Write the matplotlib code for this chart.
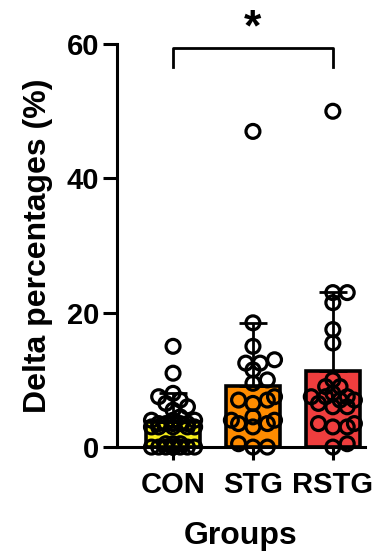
import numpy as np
import matplotlib
matplotlib.use("Agg")
import matplotlib.pyplot as plt

plt.rcParams['font.family'] = ['Liberation Sans', 'DejaVu Sans']
plt.rcParams['font.weight'] = 'bold'

groups = ["CON", "STG", "RSTG"]
bar_colors = ["#f7ee1a", "#ff8c00", "#ef3e3e"]
means = [3.7, 9.1, 11.4]
sds = [4.3, 9.4, 11.7]

con_vals = [15, 11, 8, 7.5, 7, 6.5, 6, 5.5, 4.5, 4, 4, 4, 3.5, 3.5, 3.5, 3.5,
            3.5, 3, 3, 3, 3, 3, 0.5, 0.5, 0.5, 0, 0, 0, 0, 0, 0, 0, 0, 0]
stg_vals = [47, 18.5, 15, 12.5, 12.5, 13, 11.5, 10, 9.5, 7.5, 7, 7, 6.5,
            4, 4, 4.5, 3.5, 3.5, 3, 0.5, 0, 0]
rstg_vals = [50, 23, 23, 21.5, 17.5, 15.5, 10, 9, 9, 8, 7.5, 7.5, 7.5, 7, 7,
             6.5, 6, 6, 3.5, 3.5, 3, 3, 0.5, 0]
all_vals = [con_vals, stg_vals, rstg_vals]

fig = plt.figure(figsize=(3.84, 5.54), dpi=100)
ax = fig.add_axes([0.305, 0.193, 0.645, 0.7274])

xpos = np.arange(len(groups))
ax.bar(xpos, means, width=0.67, color=bar_colors, edgecolor="black",
       linewidth=2.6, zorder=2)
ax.errorbar(xpos, means, yerr=[np.zeros(3), sds], fmt="none", ecolor="black",
            elinewidth=2, capsize=10, capthick=2, zorder=3)

# simple beeswarm layout in pixel space
px_x, px_y = 80.0, 6.72
step = 0.09
for i, vals in enumerate(all_vals):
    placed = []
    for v in sorted(vals):
        best, best_d = 0.0, -1
        done = False
        for k in range(0, 8):
            for off in ([0.0] if k == 0 else [k * step, -k * step]):
                if abs(off) > 0.27:
                    continue
                if placed:
                    d = min(np.hypot((off - po) * px_x, (v - pv) * px_y) for po, pv in placed)
                else:
                    d = 99
                if d >= 9:
                    best, best_d = off, d
                    done = True
                    break
                if d > best_d:
                    best, best_d = off, d
            if done:
                break
        placed.append((best, v))
    xs = [i + p[0] for p in placed]
    ys = [p[1] for p in placed]
    ax.scatter(xs, ys, s=100, facecolors="none", edgecolors="black",
               linewidths=2.3, zorder=4, clip_on=False)

ax.set_xlim(-0.7, 2.4)
ax.set_ylim(0, 60)
ax.set_yticks([0, 20, 40, 60])
ax.set_xticks(xpos)
ax.set_xticklabels(groups)
for s in ["top", "right"]:
    ax.spines[s].set_visible(False)
for s in ["left", "bottom"]:
    ax.spines[s].set_linewidth(2.2)
ax.tick_params(axis="y", length=10, width=2.2, labelsize=21, pad=3)
ax.tick_params(axis="x", length=9, width=2.2, labelsize=21, pad=8)
ax.set_ylabel("Delta percentages (%)", fontsize=23, fontweight="bold", labelpad=10)
ax.set_xlabel("Groups", fontsize=23, fontweight="bold", labelpad=16)

# significance bracket
ax.plot([0, 0, 2, 2], [56.6, 59.4, 59.4, 56.6], color="black", lw=2, clip_on=False)
ax.text(1, 62.3, "*", ha="center", va="center", fontsize=32, fontweight="bold")

fig.savefig("out.png", dpi=100)
